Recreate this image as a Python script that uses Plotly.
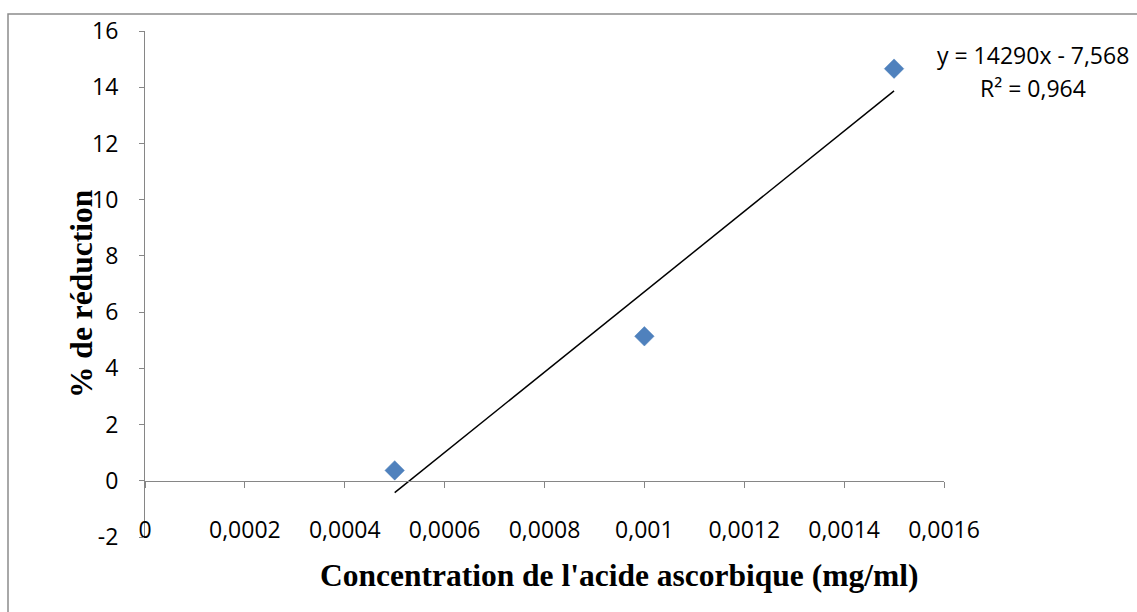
import numpy as np
import plotly.graph_objects as go

# Data
concentration = [0.0005, 0.001, 0.0015]
reduction = [0.37, 5.14, 14.66]

x_tickvals = [0, 0.0002, 0.0004, 0.0006, 0.0008, 0.001, 0.0012, 0.0014, 0.0016]
x_ticktext = ["0", "0,0002", "0,0004", "0,0006", "0,0008", "0,001", "0,0012", "0,0014", "0,0016"]
y_tickvals = [-2, 0, 2, 4, 6, 8, 10, 12, 14, 16]
y_ticktext = ["-2", "0", "2", "4", "6", "8", "10", "12", "14", "16"]

eq_text = "y = 14290x - 7,568"
r2_text = "R² = 0,964"

# Linear trend line
slope, intercept = np.polyfit(concentration, reduction, 1)
trend_x = [min(concentration), max(concentration)]
trend_y = [slope * v + intercept for v in trend_x]

W, H = 1137, 612
L, R, T, B = 145, 944, 31, 537  # plot area in px


def px(xp):
    return (xp - L) / (R - L)


def py(yp):
    return (B - yp) / (B - T)


fig = go.Figure()
fig.add_trace(go.Scatter(
    x=trend_x, y=trend_y, mode="lines",
    line=dict(color="black", width=1.5), showlegend=False, hoverinfo="skip"))
fig.add_trace(go.Scatter(
    x=concentration, y=reduction, mode="markers",
    marker=dict(symbol="diamond", size=15, color="#4F81BD",
                line=dict(color="#4A7EBB", width=0.5)),
    showlegend=False))

tick_font = dict(family="Open Sans", size=23, color="black")
axis_col = "#868686"

fig.update_layout(
    width=W, height=H,
    margin=dict(l=L, r=W - R, t=T, b=H - B),
    paper_bgcolor="white", plot_bgcolor="white",
    xaxis=dict(
        range=[0, 0.0016], tickvals=x_tickvals, ticktext=x_ticktext,
        anchor="free", position=py(481), showline=True, linecolor=axis_col,
        linewidth=1, ticks="outside", ticklen=6, tickcolor=axis_col,
        showgrid=False, zeroline=False, tickfont=tick_font,
        ticklabelstandoff=22),
    yaxis=dict(
        range=[-2, 16], tickvals=y_tickvals, ticktext=y_ticktext,
        showline=True, linecolor=axis_col,
        linewidth=1, ticks="outside", ticklen=5, tickcolor=axis_col,
        showgrid=False, zeroline=False, tickfont=tick_font,
        ticklabelstandoff=16),
    font=tick_font,
)

title_font = dict(family="Liberation Serif", size=31.5, color="black")
fig.add_annotation(text="<b>Concentration de l'acide ascorbique (mg/ml)</b>",
                   xref="paper", yref="paper", x=px(619), y=py(575),
                   showarrow=False, font=title_font, xanchor="center", yanchor="middle")
fig.add_annotation(text="<b>% de réduction</b>", textangle=-90,
                   xref="paper", yref="paper", x=px(81), y=py(294),
                   showarrow=False, font=title_font, xanchor="center", yanchor="middle")
fig.add_annotation(text=eq_text, xref="paper", yref="paper", x=px(1033), y=py(55),
                   showarrow=False, font=tick_font, xanchor="center", yanchor="middle")
fig.add_annotation(text=r2_text, xref="paper", yref="paper", x=px(1033), y=py(88),
                   showarrow=False, font=tick_font, xanchor="center", yanchor="middle")

# Outer chart border
fig.add_shape(type="rect", xref="paper", yref="paper",
              x0=px(8), y0=py(14), x1=px(1150), y1=py(640),
              line=dict(color="#8C8C8C", width=1.5), fillcolor="rgba(0,0,0,0)",
              layer="below")

fig.write_html("out.html")
